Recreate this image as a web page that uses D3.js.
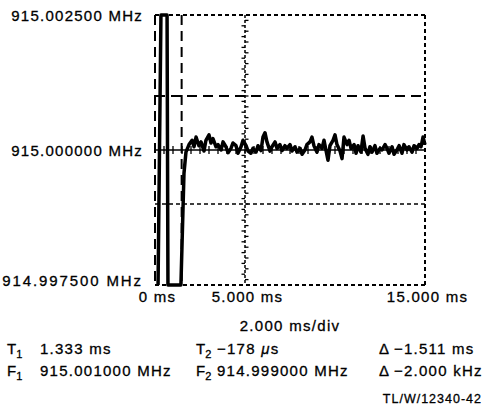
<!DOCTYPE html>
<html>
<head>
<meta charset="utf-8">
<script src="https://cdn.jsdelivr.net/npm/d3@7"></script>
<style>
  body { margin: 0; background: #fff; }
  svg text { font-family: "Liberation Sans", Arial, sans-serif; fill: #000; stroke: #000; stroke-width: 0.3px; }
</style>
</head>
<body>
<svg id="chart" width="497" height="410"></svg>
<script>
// frequency axis, kHz offset from 915.000000 MHz
var yTickValues = [2.5, 0, -2.5];
var yTickLabels = ["915.002500 MHz", "915.000000 MHz", "914.997500 MHz"];

// time axis, ms
var xTickValues = [0, 5, 15];
var xTickLabels = ["0 ms", "5.000 ms", "15.000 ms"];
var sweepLabel = "2.000 ms/div";

// cursors
var timeCursor = [1.48];          // T1 line
var freqCursorLong = [1.0];       // F1 line
var freqCursorShort = [-1.0];     // F2 line

// trace: time (ms) and frequency offset (kHz); off-screen values sit on the rails
var traceT = [0.17, 0.33, 0.67, 0.72, 1.44, 1.61, 1.72, 1.89, 2.06, 2.17, 2.28, 2.44, 2.56, 2.72, 2.83, 3.00,
  3.11, 3.22, 3.39, 3.50, 3.67, 3.78, 3.94, 4.06, 4.22, 4.33, 4.50, 4.61, 4.78, 4.89, 5.06, 5.17,
  5.33, 5.44, 5.61, 5.72, 5.89, 6.00, 6.11, 6.22, 6.39, 6.50, 6.67, 6.78, 6.94, 7.06, 7.22, 7.33,
  7.50, 7.61, 7.78, 7.89, 8.06, 8.17, 8.33, 8.44, 8.61, 8.72, 8.83, 9.00, 9.11, 9.28, 9.39, 9.50,
  9.61, 9.72, 9.89, 10.00, 10.11, 10.28, 10.39, 10.50, 10.67, 10.78, 10.89, 11.06, 11.17, 11.28,
  11.44, 11.56, 11.67, 11.83, 11.94, 12.06, 12.22, 12.33, 12.50, 12.61, 12.78, 12.89, 13.00, 13.17,
  13.28, 13.44, 13.56, 13.72, 13.83, 14.00, 14.11, 14.28, 14.39, 14.56, 14.67, 14.78, 14.89, 15.00];
var traceF = [-2.5, 2.5, 2.5, -2.5, -2.5, -0.43, -0.04, 0.10, 0.18, 0.06, 0.24, 0.08, 0.15, -0.02, 0.18, 0.28,
  0.13, 0.21, 0.06, 0.10, 0.00, 0.15, 0.06, -0.05, 0.03, 0.13, 0.08, -0.06, 0.06, 0.18, 0.08, -0.02,
  -0.06, 0.03, -0.04, 0.08, -0.01, 0.24, 0.32, 0.15, -0.02, 0.06, 0.15, 0.03, 0.10, -0.01, 0.08, 0.03,
  0.10, -0.02, 0.06, -0.04, 0.03, -0.08, 0.00, 0.10, 0.15, 0.24, 0.08, -0.04, 0.10, 0.03, 0.18, -0.01,
  -0.19, 0.08, 0.18, 0.28, 0.10, -0.02, -0.16, 0.24, 0.10, 0.18, 0.03, 0.10, -0.06, 0.08,
  -0.04, 0.26, 0.03, -0.08, 0.06, -0.04, 0.08, -0.06, 0.03, 0.00, 0.10, 0.03, -0.06, 0.06,
  -0.08, 0.00, 0.08, -0.06, 0.10, 0.00, 0.06, -0.04, 0.08, 0.03, 0.10, 0.06, 0.24, 0.10];

// readout block
var readoutNames = [["T", "1"], ["T", "2"], ["\u0394", ""], ["F", "1"], ["F", "2"], ["\u0394", ""]];
var readoutValues = ["1.333 ms", "\u2212178 \u03bcs", "\u22121.511 ms", "915.001000 MHz", "914.999000 MHz", "\u22122.000 kHz"];
var figureId = "TL/W/12340-42";

var svg = d3.select("#chart");

var x = d3.scaleLinear().domain([0, 15]).range([155, 425]);
var y = d3.scaleLinear().domain([-2.5, 2.5]).range([285, 15]);

var SHORT = "4,3", LONG = "10,6";

// graticule: center lines with minor ticks
var grat = svg.append("g");
grat.append("line")
    .attr("x1", x(5)).attr("x2", x(5)).attr("y1", y(2.5)).attr("y2", y(-2.5))
    .attr("stroke", "#000").attr("stroke-width", 1.5).attr("stroke-dasharray", "3,2");
grat.selectAll(".vt").data(d3.range(-24, 25)).enter().append("line")
    .attr("x1", function(d, i) { return x(5) - (i % 2 ? 3.5 : 0); })
    .attr("x2", function(d, i) { return x(5) + (i % 2 ? 0 : 3.5); })
    .attr("y1", function(d) { return y(d / 10); }).attr("y2", function(d) { return y(d / 10); })
    .attr("stroke", "#000").attr("stroke-width", 1.3);
grat.append("line")
    .attr("x1", x(0)).attr("x2", x(15)).attr("y1", y(0)).attr("y2", y(0))
    .attr("stroke", "#000").attr("stroke-width", 1.4);
grat.selectAll(".ht").data(d3.range(1, 30)).enter().append("line")
    .attr("x1", function(d) { return x(d / 2); }).attr("x2", function(d) { return x(d / 2); })
    .attr("y1", y(0) - 4).attr("y2", y(0) + 4)
    .attr("stroke", "#000").attr("stroke-width", 1.3);

// frame
svg.append("line").attr("x1", x(0)).attr("x2", x(15)).attr("y1", y(2.5)).attr("y2", y(2.5))
    .attr("stroke", "#000").attr("stroke-width", 2).attr("stroke-dasharray", SHORT);
svg.append("line").attr("x1", x(0)).attr("x2", x(15)).attr("y1", y(-2.5)).attr("y2", y(-2.5))
    .attr("stroke", "#000").attr("stroke-width", 2).attr("stroke-dasharray", SHORT);
svg.append("line").attr("x1", x(15)).attr("x2", x(15)).attr("y1", y(2.5)).attr("y2", y(-2.5))
    .attr("stroke", "#000").attr("stroke-width", 2).attr("stroke-dasharray", SHORT);
svg.append("line").attr("x1", x(0)).attr("x2", x(0)).attr("y1", y(2.5)).attr("y2", y(-2.5))
    .attr("stroke", "#000").attr("stroke-width", 2).attr("stroke-dasharray", LONG);

// cursors
svg.selectAll(".tc").data(timeCursor).enter().append("line")
    .attr("x1", x).attr("x2", x).attr("y1", y(2.5)).attr("y2", y(-2.5))
    .attr("stroke", "#000").attr("stroke-width", 2).attr("stroke-dasharray", LONG);
svg.selectAll(".fl").data(freqCursorLong).enter().append("line")
    .attr("x1", x(0)).attr("x2", x(15)).attr("y1", y).attr("y2", y)
    .attr("stroke", "#000").attr("stroke-width", 2).attr("stroke-dasharray", LONG);
svg.selectAll(".fs").data(freqCursorShort).enter().append("line")
    .attr("x1", x(0)).attr("x2", x(15)).attr("y1", y).attr("y2", y)
    .attr("stroke", "#000").attr("stroke-width", 1.6).attr("stroke-dasharray", SHORT);

// trace
var line = d3.line()
    .x(function(d, i) { return x(traceT[i]); })
    .y(function(d) { return y(d); });
svg.append("path").datum(traceF)
    .attr("d", line)
    .attr("fill", "none").attr("stroke", "#000").attr("stroke-width", 3.5)
    .attr("stroke-linejoin", "round");

// axes (labels only)
var yAxis = svg.append("g").attr("transform", "translate(143,0)")
    .call(d3.axisLeft(y).tickValues(yTickValues).tickSize(0).tickPadding(0)
      .tickFormat(function(d, i) { return yTickLabels[i]; }));
yAxis.select(".domain").remove();
yAxis.selectAll("text")
    .attr("font-family", "Liberation Sans, Arial, sans-serif")
    .attr("font-size", 15).attr("letter-spacing", function(d, i) { return i === 2 ? 1.9 : 1.25; })
    .attr("dy", function(d, i) { return i === 2 ? "0" : "0.36em"; });

var xAxis = svg.append("g").attr("transform", "translate(2,289)")
    .call(d3.axisBottom(x).tickValues(xTickValues).tickSize(0).tickPadding(0)
      .tickFormat(function(d, i) { return xTickLabels[i]; }));
xAxis.select(".domain").remove();
xAxis.selectAll("text")
    .attr("font-family", "Liberation Sans, Arial, sans-serif")
    .attr("font-size", 15).attr("letter-spacing", 1.25).attr("dy", "0.85em");

svg.append("text").attr("x", 290).attr("y", 331).attr("text-anchor", "middle")
    .attr("font-size", 15).attr("letter-spacing", 1.3).text(sweepLabel);

// readouts
var colX = [7, 196, 379];
var rowY = [354, 376];
var ro = svg.append("g").selectAll("g").data(readoutNames).enter().append("g")
    .attr("transform", function(d, i) { return "translate(" + colX[i % 3] + "," + rowY[Math.floor(i / 3)] + ")"; });
ro.append("text").attr("font-size", 15).each(function(d) {
  var t = d3.select(this);
  t.append("tspan").text(d[0]);
  if (d[1]) t.append("tspan").attr("font-size", 11).attr("dy", 4).text(d[1]);
});
ro.append("text")
    .attr("x", function(d, i) { return i % 3 === 2 ? 15 : (i % 3 === 0 ? 33 : 21); })
    .attr("font-size", 15).attr("letter-spacing", 1.25)
    .each(function(d, i) {
      var s = readoutValues[i];
      var t = d3.select(this);
      if (s.indexOf("\u03bc") >= 0) {
        var parts = s.split("\u03bc");
        t.append("tspan").text(parts[0]);
        t.append("tspan").attr("font-style", "italic").text("\u03bc");
        t.append("tspan").text(parts[1]);
      } else {
        t.text(s);
      }
    });

svg.append("text").attr("x", 482).attr("y", 403).attr("text-anchor", "end")
    .attr("font-size", 12.5).attr("letter-spacing", 1).text(figureId);
</script>
</body>
</html>
